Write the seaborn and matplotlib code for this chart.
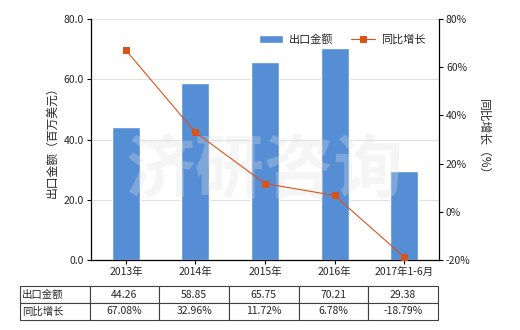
import matplotlib
matplotlib.use("Agg")
import matplotlib.pyplot as plt
import seaborn as sns
import pandas as pd
from matplotlib.ticker import FuncFormatter, MultipleLocator

categories = ["2013年", "2014年", "2015年", "2016年", "2017年1-6月"]
export_values = [44.26, 58.85, 65.75, 70.21, 29.38]
growth_values = [67.08, 32.96, 11.72, 6.78, -18.79]
series_names = ["出口金额", "同比增长"]
export_labels = ["44.26", "58.85", "65.75", "70.21", "29.38"]
growth_labels = ["67.08%", "32.96%", "11.72%", "6.78%", "-18.79%"]

sns.set_theme(style="white")
plt.rcParams['font.family'] = ['Noto Sans CJK SC', 'DejaVu Sans']
plt.rcParams['axes.unicode_minus'] = False

bar_color = "#558ED5"
line_color = "#D9541A"

df = pd.DataFrame({"cat": categories, "export": export_values, "growth": growth_values})

fig = plt.figure(figsize=(5.2, 3.3), dpi=100)
ax = fig.add_axes([91/520, 1-260/330, 348/520, 241/330])

sns.barplot(data=df, x="cat", y="export", color=bar_color, width=0.4, ax=ax,
            saturation=1, label=series_names[0], zorder=2)
ax.set_ylim(0, 80)
ax.yaxis.set_major_locator(MultipleLocator(20))
ax.yaxis.set_major_formatter(FuncFormatter(lambda v, p: f"{v:.1f}"))
ax.set_xlim(-0.5, 4.5)
ax.grid(axis="y", color="#e0e0e0", lw=0.8, zorder=0)
ax.set_axisbelow(True)
ax.set_xlabel("")
ax.set_ylabel("出口金额（百万美元）", fontsize=8.5)
ax.tick_params(axis="both", labelsize=7.5, length=3, width=0.8, color="black",
               direction="out", left=True, bottom=True, pad=2)
for s in ["left", "bottom"]:
    ax.spines[s].set_color("black")
    ax.spines[s].set_linewidth(0.9)
ax.spines["top"].set_visible(False)
ax.spines["right"].set_visible(False)

ax2 = ax.twinx()
sns.lineplot(x=list(range(len(categories))), y=growth_values, ax=ax2, color=line_color,
             marker="s", markersize=4.5, markeredgecolor=line_color, lw=0.8,
             label=series_names[1], legend=False, zorder=3)
ax2.set_ylim(-20, 80)
ax2.yaxis.set_major_locator(MultipleLocator(20))
ax2.yaxis.set_major_formatter(FuncFormatter(lambda v, p: f"{int(v)}%"))
ax2.set_ylabel("同比增长（%）", fontsize=8.5, rotation=-90, labelpad=14)
ax2.tick_params(axis="y", labelsize=7.5, length=3, width=0.8, color="black",
                direction="out", right=True, pad=2)
ax2.spines["right"].set_color("black")
ax2.spines["right"].set_linewidth(0.9)
for s in ["top", "left", "bottom"]:
    ax2.spines[s].set_visible(False)
ax2.grid(False)

# watermark
ax.text(0.5, 0.37, "济研咨询", transform=ax.transAxes, fontsize=50, color="#e0e0e0",
        alpha=0.3, ha="center", va="center", fontweight="bold", zorder=2.5)

h1, l1 = ax.get_legend_handles_labels()
h2, l2 = ax2.get_legend_handles_labels()
if ax.get_legend() is not None:
    ax.get_legend().remove()
leg = ax2.legend(h1 + h2, l1 + l2, loc="upper right", bbox_to_anchor=(0.99, 0.98),
                 ncol=2, frameon=False, fontsize=8, handlelength=2.2, columnspacing=1.6,
                 handletextpad=0.5)

# data table
cell_text = [[series_names[0]] + export_labels, [series_names[1]] + growth_labels]
tbl = ax.table(cellText=cell_text, cellLoc="center",
               bbox=[(20-91)/348, (260-320)/241, (438-20)/348, 34/241])
tbl.auto_set_font_size(False)
tbl.set_fontsize(7.5)
for (r, c), cell in tbl.get_celld().items():
    cell.set_edgecolor("#404040")
    cell.set_linewidth(0.8)
    if c == 0:
        cell.set_text_props(ha="left")
        cell._loc = "left"
        cell.PAD = 0.03

fig.savefig("out.png", dpi=100)
